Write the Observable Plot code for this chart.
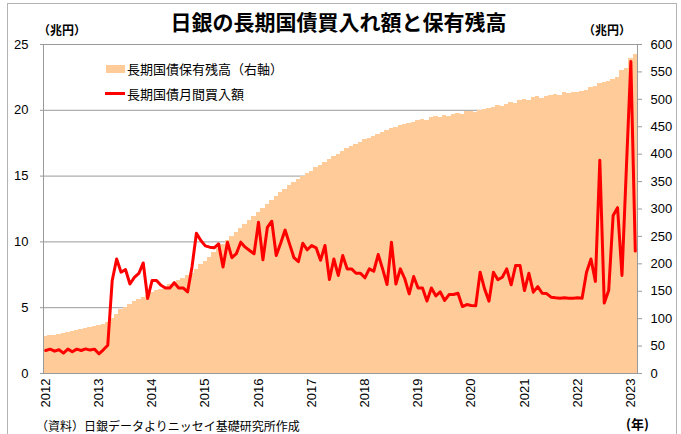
<!DOCTYPE html>
<html>
<head>
<meta charset="utf-8">
<script src="https://cdn.jsdelivr.net/npm/d3@7"></script>
<script src="https://cdn.jsdelivr.net/npm/@observablehq/plot@0.6"></script>
<style>
  body { margin: 0; background: #fff; }
  #wrap { position: relative; width: 681px; height: 434px; overflow: hidden; font-family: "Noto Sans CJK JP", "Noto Sans", sans-serif; color: #000; }
  #border { position: absolute; left: 7px; top: 3px; width: 670px; height: 460px; border: 1px solid #b4b4b4; box-sizing: border-box; }
  #chart { position: absolute; left: 0; top: 0; }
  .t { position: absolute; white-space: nowrap; line-height: 1; }
  #title { left: 0; width: 677px; text-align: center; top: 11px; font-size: 21px; font-weight: bold; }
  .unit { font-size: 12px; font-weight: bold; top: 24px; }
  .leg { font-size: 13px; left: 127px; }
  .sw { position: absolute; }
</style>
</head>
<body>
<div id="wrap">
  <div id="border"></div>
  <div id="chart"></div>
  <div class="t" id="title">日銀の長期国債買入れ額と保有残高</div>
  <div class="t unit" style="left:38px">（兆円）</div>
  <div class="t unit" style="left:583px">（兆円）</div>
  <div class="sw" style="left:106px;top:65px;width:19px;height:8px;background:#FFCC99"></div>
  <div class="t leg" style="top:62px">長期国債保有残高（右軸）</div>
  <div class="sw" style="left:105px;top:92px;width:20px;height:3px;background:#FF0000"></div>
  <div class="t leg" style="top:87px">長期国債月間買入額</div>
  <div class="t" style="left:36px;top:420px;font-size:12px;">（資料）日銀データよりニッセイ基礎研究所作成</div>
  <div class="t" style="left:626px;top:417px;font-size:13px;font-weight:bold;">(年)</div>
</div>
<script>
// ---- data ----
const startMonth = "2012-01";
const endMonth = "2023-02";
const yearLabels = ["2012","2013","2014","2015","2016","2017","2018","2019","2020","2021","2022","2023"];
const leftTicks = [0, 5, 10, 15, 20, 25];
const rightTicks = [0, 50, 100, 150, 200, 250, 300, 350, 400, 450, 500, 550, 600];
const leftMax = 25;
const rightMax = 600;

// 長期国債月間買入額（兆円, 左軸）
const purchases = [
  1.75, 1.85, 1.70, 1.80, 1.55, 1.85, 1.65, 1.85, 1.75, 1.87, 1.78, 1.85,
  1.50, 1.80, 2.15, 7.07, 8.70, 7.70, 7.90, 6.80, 7.30, 7.60, 8.40, 5.70,
  7.07, 7.07, 6.70, 6.50, 6.50, 6.90, 6.50, 6.50, 6.20, 8.10, 10.66, 10.10,
  9.70, 9.60, 9.55, 9.85, 8.10, 9.98, 8.80, 9.10, 9.98, 9.60, 9.35, 9.10,
  11.50, 8.64, 11.10, 11.57, 8.97, 9.90, 10.90, 9.85, 8.80, 8.50, 9.90, 9.40,
  9.73, 9.55, 8.60, 9.73, 7.14, 8.70, 7.45, 8.97, 7.95, 7.95, 7.62, 7.62,
  7.27, 7.95, 7.77, 9.04, 7.95, 6.76, 9.98, 6.80, 7.95, 7.20, 6.05, 7.37,
  6.50, 6.50, 5.50, 6.50, 5.90, 6.20, 5.55, 6.00, 6.00, 6.10, 5.09, 5.24,
  5.17, 5.15, 7.70, 6.43, 5.50, 7.70, 7.12, 7.32, 7.95, 6.74, 8.20, 8.20,
  6.30, 7.62, 6.18, 6.60, 6.10, 6.07, 5.80, 5.75, 5.72, 5.75, 5.72, 5.72,
  5.75, 5.72, 7.70, 8.70, 7.00, 16.20, 5.35, 6.30, 12.00, 12.60, 7.45, 15.70,
  23.70, 9.30
];

// 長期国債保有残高（兆円, 右軸）
const holdings = [
  68, 69, 70, 72, 73, 75, 77, 78, 80, 82, 84, 86,
  88, 90, 93, 100, 108, 116, 121, 126, 131, 135, 139, 143,
  147, 151, 154, 158, 162, 166, 170, 174, 178, 183, 190, 198,
  205, 212, 220, 228, 235, 242, 250, 257, 265, 272, 279, 287,
  294, 301, 308, 316, 323, 330, 336, 342, 348, 354, 359, 364,
  369, 375, 380, 385, 390, 395, 400, 405, 410, 414, 418, 422,
  426, 429, 432, 436, 439, 443, 447, 449, 452, 454, 456, 458,
  461, 463, 462, 466, 468, 467, 471, 469, 473, 475, 472, 477,
  478, 476, 480, 481, 483, 486, 489, 487, 491, 494, 492, 497,
  500, 498, 503, 505, 501, 506, 507, 509, 507, 512, 510, 513,
  512, 514, 517, 521, 524, 528, 531, 533, 537, 539, 552, 557,
  575, 582
];

// ---- build ----
const fmt = d3.utcFormat("%Y-%m");
const months = d3.utcMonths(new Date(startMonth + "-01"), d3.utcMonth.offset(new Date(endMonth + "-01"), 1)).map(fmt);
const januaries = yearLabels.map(y => y + "-01");
const k = leftMax / rightMax;
const data = months.map((m, i) => ({month: m, buy: purchases[i], hold: holdings[i]}));

const chart = Plot.plot({
  width: 681,
  height: 434,
  marginTop: 44,
  marginBottom: 61,
  marginLeft: 43,
  marginRight: 44,
  style: {fontFamily: '"Liberation Sans", Arial, sans-serif', fontSize: "13px", color: "#000", background: "transparent"},
  x: {type: "band", domain: months, padding: 0, axis: null},
  y: {domain: [0, leftMax], axis: null},
  marks: [
    Plot.gridY(leftTicks, {stroke: "#9a9a9a", strokeOpacity: 1}),
    Plot.barY(data, {x: "month", y: d => d.hold * k, fill: "#FFCC99", shapeRendering: "crispEdges"}),
    Plot.frame({stroke: "#9a9a9a"}),
    Plot.lineY(data, {x: "month", y: "buy", stroke: "#FF0000", strokeWidth: 3, strokeLinejoin: "round"}),
    Plot.axisY(leftTicks, {anchor: "left", tickSize: 3, tickPadding: 12, stroke: "#9a9a9a", fill: "#000", label: null}),
    Plot.axisY(rightTicks.map(v => v * k), {anchor: "right", tickSize: 4, tickPadding: 9, stroke: "#9a9a9a", fill: "#000", label: null, tickFormat: d => Math.round(d / k)}),
    Plot.axisX(januaries, {anchor: "bottom", tickRotate: -90, tickSize: 0, tickPadding: 5, fill: "#000", label: null, tickFormat: m => m.slice(0, 4)})
  ]
});
document.getElementById("chart").appendChild(chart);
</script>
</body>
</html>
